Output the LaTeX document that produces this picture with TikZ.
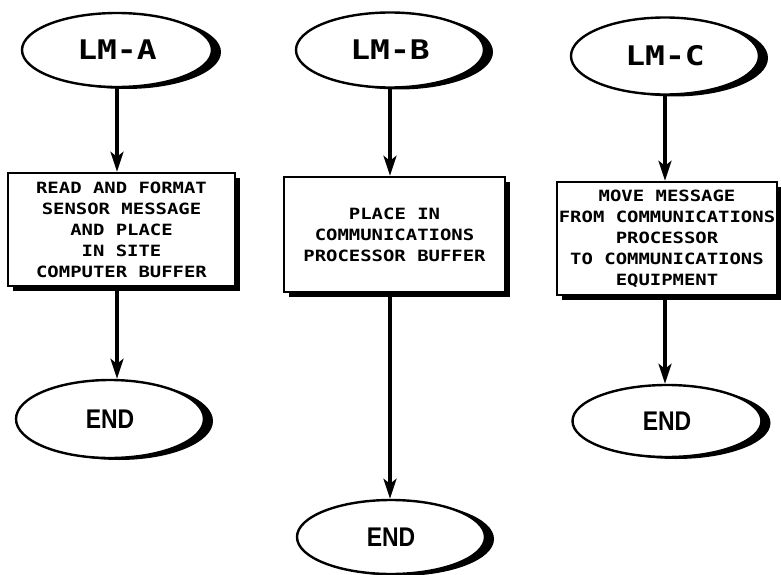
\documentclass[tikz,border=0pt]{standalone}
\usepackage{fontspec}
% plotter-style lettering: a widened monospace sans
\newfontfamily\plotfont[FakeStretch=1.22]{DejaVu Sans Mono}
\newfontfamily\endfont[FakeStretch=0.85]{Liberation Sans}
\usetikzlibrary{shapes.geometric,shadows,arrows.meta}

\begin{document}
\begin{tikzpicture}[x=1pt,y=-1pt,
  term/.style={ellipse, draw, line width=2.4pt, fill=white, inner sep=0pt,
    drop shadow={shadow xshift=9pt, shadow yshift=-2pt, opacity=1, fill=black}},
  proc/.style={rectangle, draw, line width=2.4pt, fill=white, inner sep=0pt,
    align=center, font=\plotfont\bfseries\fontsize{15.5}{21}\selectfont,
    drop shadow={shadow xshift=4.5pt, shadow yshift=-4.5pt, opacity=1, fill=black}},
  lab/.style={font=\plotfont\bfseries\fontsize{27}{30}\selectfont},
  fin/.style={font=\endfont\bfseries\fontsize{27}{30}\selectfont},
  flow/.style={line width=3.5pt, -{Stealth[length=20pt,width=13pt,inset=5pt]}}
]
\useasboundingbox (0,0) rectangle (781,575);

% start terminals
\node[term, lab, minimum width=190pt, minimum height=74pt] (lmA) at (117,50) {LM-A};
\node[term, lab, minimum width=188pt, minimum height=75pt] (lmB) at (390,50) {LM-B};
\node[term, lab, minimum width=188pt, minimum height=77pt] (lmC) at (665,56) {LM-C};

% process boxes
\node[proc, minimum width=227pt, minimum height=113pt] (boxA) at (121.5,229.5)
  {READ AND FORMAT\\SENSOR MESSAGE\\AND PLACE\\IN SITE\\COMPUTER BUFFER};
\node[proc, minimum width=221pt, minimum height=115pt] (boxB) at (394.5,234.5)
  {PLACE IN\\COMMUNICATIONS\\PROCESSOR BUFFER};
\node[proc, minimum width=220pt, minimum height=113pt] (boxC) at (667,238.5)
  {MOVE MESSAGE\\FROM COMMUNICATIONS\\PROCESSOR\\TO COMMUNICATIONS\\EQUIPMENT};

% end terminals
\node[term, fin, minimum width=188pt, minimum height=78pt] (endA) at (110,419) {END};
\node[term, fin, minimum width=188pt, minimum height=74pt] (endB) at (391,537) {END};
\node[term, fin, minimum width=189pt, minimum height=72pt] (endC) at (667,421) {END};

% flow lines
\draw[flow] (lmA.south) -- (lmA.south |- boxA.north);
\draw[flow] (boxA.south -| lmA.south) -- (lmA.south |- endA.north);
\draw[flow] (lmB.south) -- (lmB.south |- boxB.north);
\draw[flow] (boxB.south -| lmB.south) -- (lmB.south |- endB.north);
\draw[flow] (lmC.south) -- (lmC.south |- boxC.north);
\draw[flow] (boxC.south -| lmC.south) -- (lmC.south |- endC.north);
\end{tikzpicture}
\end{document}
